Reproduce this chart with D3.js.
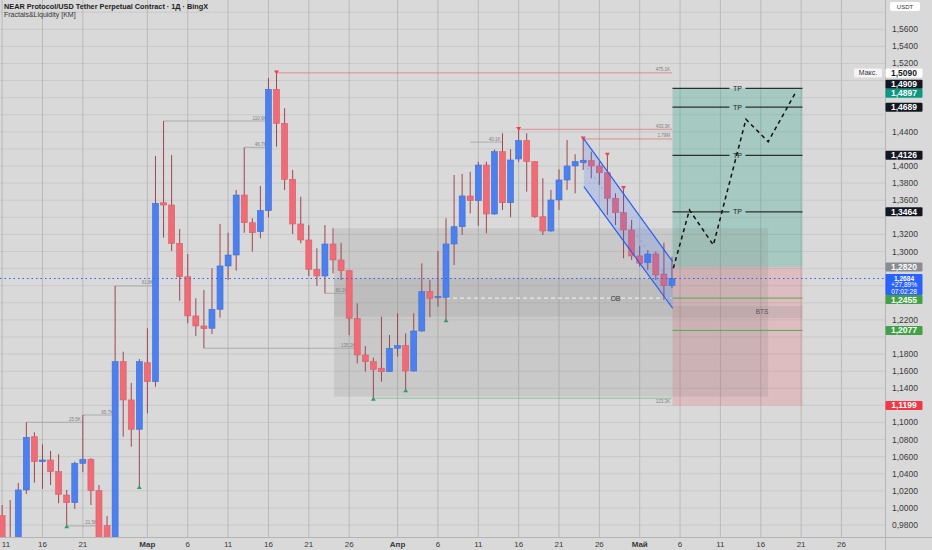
<!DOCTYPE html>
<html>
<head>
<meta charset="utf-8">
<script src="https://cdn.jsdelivr.net/npm/d3@7"></script>
<style>
  html, body { margin: 0; padding: 0; background: #d9d9d9; }
  svg { display: block; font-family: "Liberation Sans", Arial, sans-serif; }
</style>
</head>
<body>
<div id="chart"></div>
<script>
// ---- data (daily candles from 11 Feb) ----
const firstDay = "2025-02-11";
const opens = [0.9909,0.945,0.955,1.021,1.0833,1.0541,1.0561,1.0424,1.0151,1.0061,1.0522,1.0569,1.0202,0.9792,0.950,1.1711,1.1263,1.0920,
  1.1699,1.1477,1.3571,1.3544,1.3096,1.2705,1.2246,1.2129,1.2102,1.2324,1.2831,1.2959,1.3661,1.3337,1.3232,1.3478,1.4898,1.4500,1.3845,1.3322,1.3135,1.2792,1.2714,1.3088,1.2901,1.2776,1.2219,1.1789,1.1711,1.1634,1.1594,
  1.1868,1.1898,1.1602,1.2070,1.2530,1.2460,1.2464,1.3088,1.3290,1.3650,1.3595,1.4012,1.3439,1.4168,1.3571,1.4083,1.4297,1.4051,1.3407,1.3240,1.3603,1.3837,1.4001,1.4040,1.4063,1.4001,1.3922,1.3623,1.3454,1.3252,
  1.2948,1.2869,1.2971,1.2737,1.2600];
const highs = [1.0034,1.0093,1.0292,1.1002,1.0885,1.0744,1.0666,1.0627,1.0210,1.0541,1.1087,1.0581,1.0268,0.9906,1.2597,1.1828,1.1462,1.1742,
  1.2102,1.4118,1.4527,1.4129,1.3264,1.2971,1.2453,1.2550,1.2804,1.3322,1.3220,1.3720,1.4219,1.3389,1.3767,1.5030,1.5090,1.4676,1.3954,1.3641,1.3310,1.3038,1.3310,1.3272,1.3103,1.2780,1.2394,1.1895,1.1758,1.2237,1.2023,
  1.2277,1.2043,1.2277,1.2862,1.2667,1.3006,1.3389,1.3895,1.3907,1.3934,1.4050,1.4051,1.4196,1.4383,1.4196,1.4430,1.4383,1.4055,1.3857,1.3720,1.3962,1.4305,1.4138,1.4317,1.4168,1.4051,1.4129,1.3681,1.3740,1.3369,
  1.3065,1.3018,1.2998,1.3103,1.2939];
const lows = [0.9157,0.930,0.950,1.0163,1.0295,1.0222,1.0268,1.0054,0.9789,0.9988,1.0417,1.0034,0.950,0.930,0.940,1.0833,1.0716,1.0248,
  1.1107,1.1418,1.3162,1.3006,1.2425,1.2160,1.2012,1.1868,1.2035,1.2226,1.2667,1.2776,1.3220,1.2998,1.3155,1.3400,1.4226,1.3720,1.3205,1.3096,1.2714,1.2597,1.2511,1.2745,1.2667,1.2023,1.1692,1.1594,1.1283,1.1477,1.1590,
  1.1769,1.1380,1.1594,1.2062,1.2230,1.2354,1.2199,1.2842,1.3193,1.3447,1.3299,1.3213,1.3430,1.3486,1.3400,1.4050,1.3700,1.3392,1.3193,1.3232,1.3486,1.3720,1.3681,1.3954,1.3857,1.3778,1.3427,1.3310,1.2921,1.2901,
  1.2822,1.2784,1.2667,1.2433,1.2570];
const closes = [0.9391,0.962,1.021,1.0826,1.0541,1.0561,1.0424,1.0159,1.0061,1.0522,1.0569,1.0202,0.962,0.945,1.1711,1.1263,1.0920,1.1711,
  1.1477,1.3564,1.3544,1.3096,1.2705,1.2246,1.2129,1.2097,1.2324,1.2831,1.2959,1.3661,1.3337,1.3220,1.3478,1.4898,1.4500,1.3845,1.3322,1.3135,1.2792,1.2714,1.3088,1.2901,1.2776,1.2219,1.1789,1.1711,1.1622,1.1594,1.1868,
  1.1898,1.1602,1.2070,1.2530,1.2453,1.2472,1.3088,1.3290,1.3650,1.3595,1.4012,1.3439,1.4168,1.3571,1.4071,1.4297,1.4051,1.3407,1.3240,1.3603,1.3837,1.4001,1.4051,1.4068,1.4001,1.3922,1.3623,1.3454,1.3252,1.2948,
  1.2862,1.2971,1.2725,1.2600,1.2684];

const fractalHighDays = ["2025-03-17","2025-04-16","2025-04-24","2025-04-27","2025-04-29"];
const fractalLowDays = ["2025-02-19","2025-02-28","2025-03-29","2025-04-02","2025-04-07"];

// x axis ticks
const tickDays = ["2025-02-11","2025-02-16","2025-02-21","2025-03-01","2025-03-06","2025-03-11","2025-03-16","2025-03-21","2025-03-26",
  "2025-04-01","2025-04-06","2025-04-11","2025-04-16","2025-04-21","2025-04-26","2025-05-01","2025-05-06","2025-05-11","2025-05-16","2025-05-21","2025-05-26"];
const tickLabels = ["11","16","21","Мар","6","11","16","21","26","Апр","6","11","16","21","26","Май","6","11","16","21","26"];
const priceTicks = d3.range(49, 80).map(i => i * 0.02);

// liquidity lines: start, end, price, label, kind
const liqFrom  = ["2025-03-17","2025-04-16","2025-04-24","2025-03-03","2025-03-13","2025-04-10","2025-02-25","2025-02-21","2025-02-14","2025-02-19","2025-03-23","2025-03-08","2025-03-29"];
const liqTo    = ["2025-05-05","2025-05-05","2025-05-05","2025-03-16","2025-03-16","2025-04-14","2025-03-02","2025-02-25","2025-02-21","2025-02-23","2025-03-26","2025-03-27","2025-05-05"];
const liqPrice = [1.5090,1.4430,1.4317,1.4527,1.4219,1.4280,1.2597,1.1087,1.1002,0.9789,1.2511,1.1868,1.1283];
const liqLabel = ["475.1K","433.3K","1.79M","110.9K","46.7K","40.1K","61.8K","65.7K","25.5K","21.5K","80.2K","135.2K","123.3K"];
const liqKind  = ["high","high","high","gray","gray","gray","gray","gray","gray","gray","gray","gray","low"];

// zones
const rangeBoxDays = ["2025-03-24T03:00Z","2025-05-16T22:00Z"], rangeBoxPrices = [1.3272, 1.1301];
const obDays = ["2025-03-24T03:00Z","2025-05-05T02:00Z"], obPrices = [1.2687, 1.2237];
const obLineFrom = "2025-04-07", obLinePrice = 1.2455, obLabelDay = "2025-04-28";
const btsDays = ["2025-05-05T02:00Z","2025-05-21T04:00Z"], btsPrices = [1.2363, 1.2222], btsLabelDay = "2025-05-16T04:00Z";

// channel
const channelDays = ["2025-04-24T02:00Z","2025-05-05T02:00Z"];
const channelUpper = [1.4317, 1.2881];
const channelLower = [1.3758, 1.2336];

// long position
const positionDays = ["2025-05-05T01:30Z","2025-05-21T04:00Z"];
const entryPrice = 1.2820, stopPrice = 1.1199;
const tpPrices = [1.4909, 1.4689, 1.4126, 1.3464];
const supportPrices = [1.2455, 1.2077];

// projected path
const projDays = ["2025-05-05T04:00Z","2025-05-07T04:00Z","2025-05-10T03:00Z","2025-05-14T04:00Z","2025-05-16T22:00Z","2025-05-20T09:00Z"];
const projPrices = [1.2804, 1.3486, 1.3076, 1.4547, 1.4285, 1.4870];

const lastPrice = 1.2684, lastChange = "+27,89%", lastTimer = "07:02:28";
const maxPrice = 1.5090;

// price axis tags
const tagPrices = [1.5090, 1.4909, 1.4897, 1.4689, 1.4126, 1.3464, 1.2820, 1.2684, 1.2455, 1.2077, 1.1199];
const tagColors = ["#ffffff","#131722","#089981","#131722","#131722","#131722","#8a8c93","#2962ff","#43a047","#43a047","#f23645"];

// ---- setup ----
const W = 932, H = 550, plotW = 885, plotH = 537;
const parse = s => new Date(s.length === 10 ? s + "T00:00:00Z" : s);
const fmt = v => d3.format(".4f")(v).replace(".", ",");

const x = d3.scaleUtc()
  .domain([parse("2025-03-01"), parse("2025-05-01")])
  .range([147.4, 639.7]);
const y = d3.scaleLinear()
  .domain([1.56, 0.98])
  .range([29.3, 525.0]);

const candles = opens.map((o, i) => ({
  date: d3.utcDay.offset(parse(firstDay), i),
  o, h: highs[i], l: lows[i], c: closes[i]
}));

const svg = d3.select("#chart").append("svg")
  .attr("width", W).attr("height", H)
  .attr("viewBox", `0 0 ${W} ${H}`);

svg.append("rect").attr("width", W).attr("height", H).attr("fill", "#d9d9d9");

svg.append("defs").append("clipPath").attr("id", "plot")
  .append("rect").attr("width", plotW).attr("height", plotH);

const plot = svg.append("g").attr("clip-path", "url(#plot)");

// grid
plot.selectAll(".hgrid").data(priceTicks).enter().append("line")
  .attr("x1", 0).attr("x2", plotW)
  .attr("y1", d => y(d)).attr("y2", d => y(d))
  .attr("stroke", "#c9c9c9").attr("stroke-width", 1);
plot.selectAll(".vgrid").data(tickDays).enter().append("line")
  .attr("x1", d => x(parse(d))).attr("x2", d => x(parse(d)))
  .attr("y1", 0).attr("y2", plotH)
  .attr("stroke", "#bababa").attr("stroke-width", 1);

const rectOf = (days, prices) => ({
  x: x(parse(days[0])), y: y(prices[0]),
  w: x(parse(days[1])) - x(parse(days[0])), h: y(prices[1]) - y(prices[0])
});

// long position zones
const pos0 = x(parse(positionDays[0])), pos1 = x(parse(positionDays[1]));
plot.append("rect")
  .attr("x", pos0).attr("width", pos1 - pos0)
  .attr("y", y(tpPrices[0])).attr("height", y(entryPrice) - y(tpPrices[0]))
  .attr("fill", "#1e9e82").attr("fill-opacity", 0.27);
plot.append("rect")
  .attr("x", pos0).attr("width", pos1 - pos0)
  .attr("y", y(entryPrice)).attr("height", y(stopPrice) - y(entryPrice))
  .attr("fill", "#f23645").attr("fill-opacity", 0.17);

// range box / OB / BTS
const rb = rectOf(rangeBoxDays, rangeBoxPrices);
plot.append("rect").attr("x", rb.x).attr("y", rb.y).attr("width", rb.w).attr("height", rb.h)
  .attr("fill", "#7a7a7a").attr("fill-opacity", 0.17);
const ob = rectOf(obDays, obPrices);
plot.append("rect").attr("x", ob.x).attr("y", ob.y).attr("width", ob.w).attr("height", ob.h)
  .attr("fill", "#7a7a7a").attr("fill-opacity", 0.14);
const bt = rectOf(btsDays, btsPrices);
plot.append("rect").attr("x", bt.x).attr("y", bt.y).attr("width", bt.w).attr("height", bt.h)
  .attr("fill", "#7a7a7a").attr("fill-opacity", 0.16);

plot.append("line")
  .attr("x1", x(parse(obLineFrom))).attr("x2", ob.x + ob.w)
  .attr("y1", y(obLinePrice)).attr("y2", y(obLinePrice))
  .attr("stroke", "#f4f4f4").attr("stroke-width", 1).attr("stroke-dasharray", "4,3");
plot.append("text").attr("x", x(parse(obLabelDay))).attr("y", y(obLinePrice) + 2.5)
  .attr("text-anchor", "middle").attr("font-size", 7).attr("fill", "#333").text("OB");
plot.append("text").attr("x", x(parse(btsLabelDay))).attr("y", y((btsPrices[0] + btsPrices[1]) / 2) + 2.2)
  .attr("text-anchor", "middle").attr("font-size", 6.5).attr("fill", "#555").text("BTS");

// support lines in the position
plot.selectAll(".sup").data(supportPrices).enter().append("line")
  .attr("x1", pos0).attr("x2", pos1)
  .attr("y1", d => y(d)).attr("y2", d => y(d))
  .attr("stroke", "#4caf50").attr("stroke-width", 1);

// liquidity lines
const liqColor = { high: "#e8626c", gray: "#9a9a9a", low: "#5fb58a" };
liqPrice.forEach((p, i) => {
  const x1 = x(parse(liqFrom[i])), x2 = x(parse(liqTo[i]));
  plot.append("line").attr("x1", x1).attr("x2", x2).attr("y1", y(p)).attr("y2", y(p))
    .attr("stroke", liqColor[liqKind[i]]).attr("stroke-width", 0.8)
    .attr("stroke-opacity", liqKind[i] === "gray" ? 0.9 : 0.8);
  plot.append("text").attr("x", x2 - 2).attr("y", liqKind[i] === "low" ? y(p) + 5 : y(p) - 1.5)
    .attr("text-anchor", "end").attr("font-size", 4.5).attr("fill", "#808080").text(liqLabel[i]);
});

// candles
const barW = 6;
const up = d => d.c >= d.o;
const cg = plot.selectAll(".candle").data(candles).enter().append("g");
cg.append("line")
  .attr("x1", d => x(d.date)).attr("x2", d => x(d.date))
  .attr("y1", d => y(d.h)).attr("y2", d => y(d.l))
  .attr("stroke", "#9e4652").attr("stroke-width", 1);
cg.append("rect")
  .attr("x", d => x(d.date) - barW / 2).attr("width", barW)
  .attr("y", d => y(Math.max(d.o, d.c)))
  .attr("height", d => Math.max(1, Math.abs(y(d.o) - y(d.c))))
  .attr("fill", d => up(d) ? "#4d80ec" : "#ef6c77")
  .attr("stroke", d => up(d) ? "#3b6fd9" : "#d85d68").attr("stroke-width", 0.6);

// fractal markers
const byDay = new Map(candles.map(d => [d.date.getTime(), d]));
const tri = d3.symbol().type(d3.symbolTriangle).size(10);
plot.selectAll(".fh").data(fractalHighDays).enter().append("path")
  .attr("d", tri)
  .attr("transform", d => { const c = byDay.get(parse(d).getTime()); return `translate(${x(c.date)},${y(c.h) - 1}) rotate(180)`; })
  .attr("fill", "#e8434f");
plot.selectAll(".fl").data(fractalLowDays).enter().append("path")
  .attr("d", tri)
  .attr("transform", d => { const c = byDay.get(parse(d).getTime()); return `translate(${x(c.date)},${y(c.l) + 1})`; })
  .attr("fill", "#2e9e6a");

// descending channel
const cx0 = x(parse(channelDays[0])), cx1 = x(parse(channelDays[1]));
plot.append("path")
  .attr("d", `M${cx0},${y(channelUpper[0])}L${cx1},${y(channelUpper[1])}L${cx1},${y(channelLower[1])}L${cx0},${y(channelLower[0])}Z`)
  .attr("fill", "#2962ff").attr("fill-opacity", 0.17);
plot.append("line").attr("x1", cx0).attr("x2", cx1)
  .attr("y1", y((channelUpper[0] + channelLower[0]) / 2)).attr("y2", y((channelUpper[1] + channelLower[1]) / 2))
  .attr("stroke", "#6f8fe0").attr("stroke-width", 0.8).attr("stroke-dasharray", "2,4");
[channelUpper, channelLower].forEach(ch => {
  plot.append("line").attr("x1", cx0).attr("x2", cx1)
    .attr("y1", y(ch[0])).attr("y2", y(ch[1]))
    .attr("stroke", "#2a5ff0").attr("stroke-width", 1.2);
});

// TP lines
const tpMid = (pos0 + pos1) / 2, gap = 8;
tpPrices.forEach(p => {
  plot.append("line").attr("x1", pos0).attr("x2", tpMid - gap).attr("y1", y(p)).attr("y2", y(p))
    .attr("stroke", "#2b2f2d").attr("stroke-width", 1.3);
  plot.append("line").attr("x1", tpMid + gap).attr("x2", pos1).attr("y1", y(p)).attr("y2", y(p))
    .attr("stroke", "#2b2f2d").attr("stroke-width", 1.3);
  plot.append("text").attr("x", tpMid).attr("y", y(p) + 2.4)
    .attr("text-anchor", "middle").attr("font-size", 7).attr("fill", "#222").text("TP");
});

// projected path
const proj = projDays.map((d, i) => [x(parse(d)), y(projPrices[i])]);
plot.append("path").attr("d", d3.line()(proj))
  .attr("fill", "none").attr("stroke", "#111").attr("stroke-width", 1.5)
  .attr("stroke-dasharray", "4,3.5");

// last price line
plot.append("line").attr("x1", 0).attr("x2", plotW)
  .attr("y1", y(lastPrice)).attr("y2", y(lastPrice))
  .attr("stroke", "#2962ff").attr("stroke-width", 1.2).attr("stroke-dasharray", "1.5,3");

// ---- axes ----
svg.append("line").attr("x1", plotW + 0.5).attr("x2", plotW + 0.5).attr("y1", 0).attr("y2", H)
  .attr("stroke", "#b4b4b4");
svg.append("line").attr("x1", 0).attr("x2", W).attr("y1", plotH + 0.5).attr("y2", plotH + 0.5)
  .attr("stroke", "#b4b4b4");

// price tags with simple overlap resolution
const tags = tagPrices.map((p, i) => ({
  p, color: tagColors[i], c: y(p), fixed: p === lastPrice,
  up: 4.5, down: p === lastPrice ? 16.5 : 4.5
}));
for (let k = 0; k < 40; k++) {
  tags.sort((a, b) => a.c - b.c);
  for (let i = 0; i < tags.length - 1; i++) {
    const a = tags[i], b = tags[i + 1];
    const ov = (a.c + a.down) - (b.c - b.up);
    if (ov > 0) {
      if (a.fixed) b.c += ov;
      else if (b.fixed) a.c -= ov;
      else { a.c -= ov / 2; b.c += ov / 2; }
    }
  }
}

// tick labels, hidden where a tag or the USDT box covers them
const covered = v => tags.some(t => y(v) + 3.5 > t.c - t.up && y(v) - 3.5 < t.c + t.down);
svg.selectAll(".ytick").data(priceTicks.filter(v => !covered(v) && y(v) > 16)).enter().append("text")
  .attr("x", 892).attr("y", d => y(d) + 3)
  .attr("font-size", 8.5).attr("fill", "#3a3a3a").text(d => fmt(d));

svg.selectAll(".xtick").data(tickDays).enter().append("text")
  .attr("x", d => Math.max(6, x(parse(d)))).attr("y", 546.5)
  .attr("text-anchor", "middle").attr("font-size", 8)
  .attr("font-weight", (d, i) => isNaN(+tickLabels[i]) ? "bold" : "normal")
  .attr("fill", "#3a3a3a").text((d, i) => tickLabels[i]);

// USDT box
svg.append("rect").attr("x", 890).attr("y", 2).attr("width", 30).attr("height", 9).attr("rx", 2).attr("fill", "#ffffff");
svg.append("text").attr("x", 905).attr("y", 9).attr("text-anchor", "middle").attr("font-size", 6).attr("fill", "#333").text("USDT");

tags.forEach(t => {
  svg.append("rect").attr("x", plotW + 0.5).attr("y", t.c - t.up).attr("width", 37).attr("height", t.up + t.down)
    .attr("rx", 1).attr("fill", t.color);
  const fg = t.color === "#ffffff" ? "#131722" : "#ffffff";
  const lines = t.fixed ? [fmt(t.p), lastChange, lastTimer] : [fmt(t.p)];
  lines.forEach((s, j) => {
    svg.append("text").attr("x", plotW + 19).attr("y", t.c + (t.fixed ? 2.3 : 3) + j * 6.6)
      .attr("text-anchor", "middle").attr("font-size", t.fixed ? 6.6 : 8.5)
      .attr("font-weight", j === 0 ? "bold" : "normal").attr("fill", fg).text(s);
  });
});

// max label
svg.append("rect").attr("x", 854).attr("y", y(maxPrice) - 4.5).attr("width", 28).attr("height", 9)
  .attr("rx", 1.5).attr("fill", "#f4f4f4");
svg.append("text").attr("x", 868).attr("y", y(maxPrice) + 2.5).attr("text-anchor", "middle")
  .attr("font-size", 7).attr("fill", "#333").text("Макс.");

// title
svg.append("text").attr("x", 4).attr("y", 9).attr("font-size", 7.3).attr("font-weight", "bold").attr("fill", "#222")
  .text("NEAR Protocol/USD Tether Perpetual Contract · 1Д · BingX");
svg.append("text").attr("x", 4).attr("y", 17).attr("font-size", 7).attr("fill", "#333")
  .text("Fractals&Liquidity [KM]");
</script>
</body>
</html>
